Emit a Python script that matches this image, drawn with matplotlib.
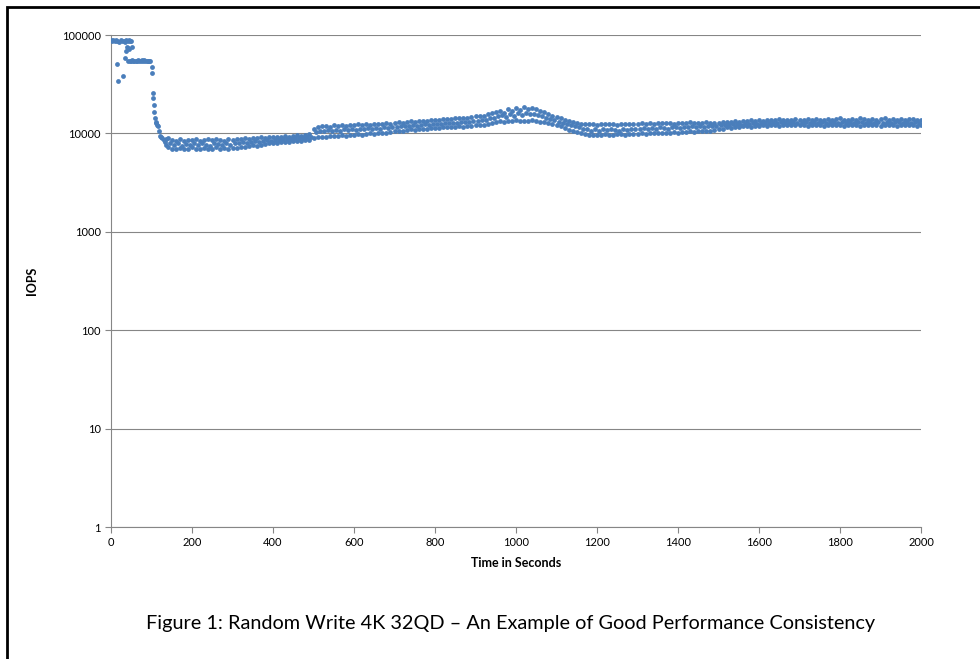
import numpy as np
import matplotlib.pyplot as plt
from matplotlib.patches import Rectangle
from matplotlib.ticker import FixedLocator, FuncFormatter, NullLocator

# начальный участок (секунды, IOPS)
t_start = [0, 3, 6, 9, 12, 15, 20, 24, 27, 31, 34, 38, 41, 44, 47, 50,
           14, 18, 29, 35, 37, 39, 42, 45, 51]
iops_start = [88000, 87000, 89000, 86000, 88000, 87000, 85000, 88000, 86000, 87000,
              85000, 88000, 87000, 88000, 86000, 87000,
              50300, 34100, 38600, 58000, 68800, 76000, 74000, 72000, 76000]

t_plateau = [43, 46, 49, 52, 55, 58, 61, 64, 67, 70, 73, 76, 79, 82, 85, 88, 91, 94, 96]
iops_plateau = [54000, 55000, 54500, 55500, 54800, 54200, 55000, 54600, 55200, 54800,
                54300, 55100, 54700, 55300, 54900, 54400, 55000, 54600, 54800]

t_drop = [100, 101, 103, 104, 105, 106, 108, 110, 112, 114, 117, 119, 121, 124,
          127, 130, 133, 136, 137]
iops_drop = [47600, 40800, 25500, 23100, 19400, 16400, 14200, 13200, 12700, 12200,
             11800, 10500, 9500, 9200, 8900, 8600, 8200, 7600, 8800]

# полоса значений с 140 с, шаг 10 с (тысячи IOPS)
band_hi = [9.0, 8.6, 8.4, 8.7, 8.3, 8.6, 8.5, 8.8, 8.4, 8.6, 8.7, 8.5, 8.8, 8.6, 8.4, 8.7, 8.6,
           8.8, 8.7, 8.9, 8.8, 9.0, 8.9, 9.1, 9.0, 9.2, 9.1, 9.3, 9.2, 9.4, 9.3, 9.5, 9.6, 9.5, 9.7, 9.8,
           11.0, 11.6, 11.8, 12.0, 11.7, 12.1, 11.9, 12.2, 12.0, 12.3, 12.1, 12.4, 12.2, 12.5, 12.3, 12.6, 12.4, 12.5, 12.7, 12.6,
           12.8, 13.0, 12.9, 13.1, 13.3, 13.2, 13.4, 13.5, 13.4, 13.6, 13.8, 13.7, 13.9, 14.0, 13.9, 14.2, 14.3, 14.2, 14.5, 14.7,
           14.9, 15.2, 15.0, 15.6, 16.0, 16.4, 16.9, 16.3, 17.6, 17.0, 18.2, 17.4, 18.5, 17.8, 18.3, 17.6, 17.0, 16.4, 15.8, 15.2,
           14.6, 14.2, 13.8, 13.4, 13.0, 12.8, 12.6, 12.5, 12.4, 12.6, 12.3, 12.5, 12.4, 12.6, 12.5, 12.3, 12.6, 12.4, 12.5, 12.6,
           12.5, 12.7, 12.6, 12.8, 12.6, 12.7, 12.9, 12.7, 12.8, 12.6, 12.9, 12.7, 12.8, 13.0, 12.8, 12.9, 12.7, 13.0, 12.9, 12.8,
           12.9, 13.1, 13.0, 13.2, 13.4, 13.1, 13.5, 13.3, 13.6, 13.4, 13.7, 13.5, 13.8, 13.6, 13.7, 13.9, 13.6, 13.8, 13.7, 13.9,
           13.8, 13.6, 13.9, 13.7, 14.0, 13.8, 13.6, 14.1, 13.7, 13.9, 14.3, 13.8, 13.7, 14.0, 13.8, 14.2, 13.9, 13.7, 14.1, 13.8,
           14.0, 14.3, 13.8, 13.9, 13.7, 14.0, 13.8, 13.9, 14.1, 13.8, 13.7]
band_lo = [7.3, 7.0, 6.9, 7.1, 6.9, 7.0, 7.2, 6.9, 7.0, 7.1, 6.9, 7.0, 7.2, 7.0, 7.1, 6.9, 7.1,
           7.1, 7.3, 7.2, 7.4, 7.6, 7.5, 7.7, 7.8, 7.9, 8.0, 7.9, 8.1, 8.2, 8.1, 8.3, 8.4, 8.3, 8.5, 8.6,
           9.0, 9.2, 9.3, 9.2, 9.4, 9.5, 9.4, 9.6, 9.5, 9.7, 9.6, 9.8, 9.7, 9.9, 10.0, 9.9, 10.1, 10.2, 10.1, 10.3,
           10.5, 10.7, 10.6, 10.8, 11.0, 10.9, 11.1, 11.2, 11.1, 11.3, 11.4, 11.3, 11.5, 11.6, 11.5, 11.7, 11.8, 11.7, 11.9, 12.0,
           12.1, 12.3, 12.2, 12.6, 12.9, 13.1, 13.4, 13.2, 13.5, 13.3, 13.6, 13.4, 13.5, 13.3, 13.6, 13.4, 13.2, 13.0, 12.8, 12.6,
           12.2, 11.8, 11.3, 10.9, 10.6, 10.3, 10.0, 9.8, 9.7, 9.6, 9.7, 9.6, 9.8, 9.7, 9.6, 9.8, 9.9, 9.7, 9.8, 9.9,
           9.8, 10.0, 9.9, 10.1, 10.0, 10.2, 10.1, 10.0, 10.2, 10.3, 10.2, 10.4, 10.3, 10.5, 10.4, 10.6, 10.5, 10.7, 10.6, 10.8,
           11.2, 11.0, 11.6, 11.3, 11.7, 11.5, 11.8, 11.9, 11.7, 12.0, 11.9, 12.1, 12.0, 12.2, 12.1, 12.0, 12.2, 12.1, 12.3, 12.2,
           12.1, 12.3, 12.0, 12.2, 12.1, 12.3, 12.0, 12.2, 12.1, 12.3, 12.2, 12.0, 12.2, 12.1, 12.3, 12.0, 12.2, 12.1, 12.3, 12.2,
           12.0, 12.2, 12.1, 12.3, 12.0, 12.2, 12.1, 12.3, 12.2, 12.0, 12.1]
# средняя линия с 145 с, шаг 10 с
band_mid = [8.0, 7.6, 7.9, 7.5, 7.8, 7.7, 8.0, 7.6, 7.9, 7.7, 7.5, 7.9, 7.8, 7.6, 8.0, 7.7,
            7.9, 8.0, 8.1, 8.0, 8.2, 8.3, 8.2, 8.4, 8.5, 8.4, 8.6, 8.5, 8.7, 8.8, 8.7, 8.9, 9.0, 8.9, 9.1, 9.2,
            10.3, 10.6, 10.5, 10.8, 10.6, 10.9, 10.7, 11.0, 10.8, 11.1, 10.9, 11.2, 11.0, 11.3, 11.1, 11.4, 11.2, 11.5, 11.3, 11.6,
            11.7, 11.9, 11.8, 12.0, 12.1, 12.0, 12.2, 12.4, 12.3, 12.5, 12.6, 12.5, 12.7, 12.8, 12.7, 12.9, 13.0, 13.0, 13.2, 13.3,
            13.5, 13.8, 13.6, 14.2, 14.5, 14.9, 15.3, 14.8, 15.6, 15.2, 16.0, 15.5, 16.2, 15.7, 15.9, 15.3, 14.9, 14.5, 14.1, 13.8,
            13.2, 12.9, 12.6, 12.2, 11.8, 11.5, 11.2, 11.0, 10.7, 11.1, 10.6, 11.0, 10.8, 11.2, 10.9, 10.7, 11.1, 10.8, 11.0, 11.2,
            11.0, 11.3, 11.1, 11.4, 11.2, 11.5, 11.3, 11.2, 11.5, 11.6, 11.4, 11.7, 11.5, 11.8, 11.6, 11.9, 11.7, 12.0, 11.8, 11.9,
            12.1, 12.3, 12.2, 12.4, 12.5, 12.3, 12.6, 12.5, 12.7, 12.6, 12.8, 12.7, 12.9, 12.8, 12.9, 13.0, 12.8, 12.9, 13.0, 12.9,
            12.9, 13.0, 12.8, 13.1, 12.9, 13.0, 12.8, 13.1, 13.0, 12.9, 13.1, 12.8, 13.0, 12.9, 13.1, 13.0, 12.8, 13.0, 12.9, 13.1,
            12.9, 13.0, 12.8, 13.1, 13.0, 12.9, 13.1, 12.8, 13.0, 12.9]

t_band = np.arange(140, 140 + 10 * len(band_hi), 10)
t_mid = np.arange(145, 145 + 10 * len(band_mid), 10)

x_ticks = [0, 200, 400, 600, 800, 1000, 1200, 1400, 1600, 1800, 2000]
y_ticks = [1, 10, 100, 1000, 10000, 100000]

plt.rcParams['font.family'] = ['Lato', 'DejaVu Sans']

fig = plt.figure(figsize=(9.8, 6.59), dpi=100)
ax = fig.add_axes([111 / 980, 1 - 527 / 659, 810 / 980, 492 / 659])

blue = '#4a7ebb'
kw = dict(s=12, color=blue, linewidths=0, zorder=3)
ax.scatter(t_start, iops_start, **kw)
ax.scatter(t_plateau, iops_plateau, **kw)
ax.scatter(t_drop, iops_drop, **kw)
ax.scatter(t_band, np.array(band_hi) * 1000, **kw)
ax.scatter(t_band, np.array(band_lo) * 1000, **kw)
ax.scatter(t_mid, np.array(band_mid) * 1000, **kw)

ax.set_yscale('log')
ax.set_ylim(1, 100000)
ax.set_xlim(0, 2000)
ax.yaxis.set_major_locator(FixedLocator(y_ticks))
ax.yaxis.set_minor_locator(NullLocator())
ax.yaxis.set_major_formatter(FuncFormatter(lambda v, p: '%d' % round(v)))
ax.set_xticks(x_ticks)

grey = '#868686'
ax.grid(axis='y', color=grey, lw=0.8)
ax.set_axisbelow(True)
for s in ['top', 'right']:
    ax.spines[s].set_visible(False)
for s in ['left', 'bottom']:
    ax.spines[s].set_color(grey)
    ax.spines[s].set_linewidth(0.8)
ax.tick_params(axis='both', colors=grey, labelcolor='black', labelsize=8, length=4, width=0.8)

ax.set_xlabel('Time in Seconds', fontsize=9, fontweight='bold', labelpad=6)
ax.set_ylabel('IOPS', fontsize=9, fontweight='bold', labelpad=17)

fig.text(511 / 980, 1 - 623 / 659, 'Figure 1: Random Write 4K 32QD – An Example of Good Performance Consistency',
         ha='center', va='center', fontsize=14.3)

# рамка вокруг рисунка
fig.add_artist(Rectangle((7 / 980, -0.1), 1.2, 1.1 - 7 / 659, transform=fig.transFigure,
                         fill=False, ec='black', lw=2))

fig.savefig('out.png', dpi=100)
